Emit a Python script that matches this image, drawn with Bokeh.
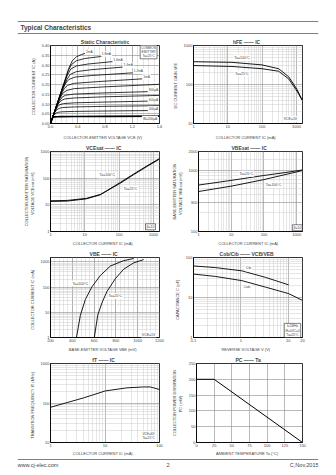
from bokeh.plotting import figure
from bokeh.layouts import column, row
from bokeh.models import (Range1d, FixedTicker, Label, Span,
                          CustomJSTickFormatter, PrintfTickFormatter)
from bokeh.embed import file_html
from bokeh.resources import INLINE

FONT = "Liberation Sans"

# ---------------- data ----------------
# Static characteristic : IC (A) vs VCE (V), one curve per base current
static_labels = ["2mA", "1.8mA", "1.6mA", "1.4mA", "1.2mA", "1mA", "", "800µA", "",
                 "600µA", "", "400µA", "IB=200µA"]
vce_c01 = [0, 0.10, 0.20, 0.27, 0.32, 0.38, 0.45, 0.52]
ic_c01 = [0, 0.105, 0.21, 0.285, 0.322, 0.342, 0.353, 0.361]
vce_c02 = [0, 0.10, 0.20, 0.26, 0.31, 0.38, 0.50, 0.77]
ic_c02 = [0, 0.105, 0.205, 0.27, 0.303, 0.322, 0.333, 0.345]
vce_c03 = [0, 0.10, 0.19, 0.25, 0.30, 0.38, 0.55, 0.96]
ic_c03 = [0, 0.105, 0.195, 0.25, 0.28, 0.295, 0.305, 0.319]
vce_c04 = [0, 0.10, 0.18, 0.24, 0.29, 0.38, 0.60, 1.12]
ic_c04 = [0, 0.10, 0.18, 0.225, 0.252, 0.266, 0.276, 0.291]
vce_c05 = [0, 0.09, 0.16, 0.22, 0.27, 0.36, 0.60, 1.26]
ic_c05 = [0, 0.09, 0.16, 0.205, 0.226, 0.238, 0.246, 0.261]
vce_c06 = [0, 0.08, 0.15, 0.20, 0.25, 0.35, 0.70, 1.40]
ic_c06 = [0, 0.08, 0.145, 0.178, 0.196, 0.206, 0.215, 0.230]
vce_c07 = [0, 0.07, 0.13, 0.18, 0.24, 0.35, 0.80, 1.60]
ic_c07 = [0, 0.07, 0.125, 0.155, 0.17, 0.179, 0.188, 0.201]
vce_c08 = [0, 0.06, 0.12, 0.17, 0.22, 0.35, 0.80, 1.60]
ic_c08 = [0, 0.06, 0.11, 0.135, 0.145, 0.151, 0.157, 0.165]
vce_c09 = [0, 0.06, 0.11, 0.16, 0.21, 0.35, 0.80, 1.60]
ic_c09 = [0, 0.06, 0.10, 0.118, 0.126, 0.131, 0.137, 0.144]
vce_c10 = [0, 0.05, 0.10, 0.14, 0.19, 0.35, 0.80, 1.60]
ic_c10 = [0, 0.05, 0.085, 0.097, 0.102, 0.106, 0.110, 0.116]
vce_c11 = [0, 0.05, 0.09, 0.13, 0.18, 0.35, 0.80, 1.60]
ic_c11 = [0, 0.05, 0.07, 0.078, 0.082, 0.085, 0.088, 0.0915]
vce_c12 = [0, 0.04, 0.08, 0.12, 0.17, 0.35, 0.80, 1.60]
ic_c12 = [0, 0.04, 0.053, 0.058, 0.060, 0.062, 0.064, 0.067]
vce_c13 = [0, 0.03, 0.06, 0.10, 0.15, 0.35, 0.80, 1.60]
ic_c13 = [0, 0.03, 0.034, 0.035, 0.0355, 0.036, 0.0365, 0.0376]
static_label_x = [0.57, 0.82, 0.99, 1.14, 1.29, 1.41, 0, 1.51, 0, 1.51, 0, 1.51, 1.46]
static_label_y = [0.368, 0.356, 0.328, 0.299, 0.270, 0.238, 0, 0.172, 0, 0.123, 0, 0.074, 0.026]
static_x_ticks = [0.0, 0.4, 0.8, 1.2, 1.6]
static_y_ticks = [0.00, 0.05, 0.10, 0.15, 0.20, 0.25, 0.30, 0.35, 0.40]

# hFE vs IC
hfe_ic = [1, 13.2, 99, 303, 594, 1035, 1450]
hfe_100 = [384, 370, 318, 254, 158, 75, 41]
hfe_25 = [306, 290, 254, 219, 139, 68, 40]

# VCEsat vs IC
vcesat_ic = [1, 3.06, 11.2, 28.5, 104, 267, 651, 1500]
vcesat_100 = [13.4, 13.8, 16.8, 24, 67, 144, 290, 545]
vcesat_25 = [14.2, 14.6, 17.5, 24.5, 63, 136, 276, 520]

# VBEsat vs IC
vbesat_ic = [1, 10.5, 99, 380, 1450]
vbesat_25 = [569, 681, 815, 898, 1000]
vbesat_100 = [447, 549, 698, 826, 977]

# IC vs VBE
vbe_100 = [438, 474, 520, 581, 657, 749, 871, 963]
icvbe_100 = [1, 7.6, 32.6, 104, 288, 687, 1127, 1363]
vbe_25 = [602, 633, 673, 718, 795, 871, 963, 1054]
icvbe_25 = [1, 7.6, 24.4, 67, 216, 515, 918, 1236]

# Cob / Cib vs reverse voltage
vr_cib = [0.1, 0.287, 1.05, 3.3, 10.2]
cib = [61.5, 56, 46.4, 31.9, 20.7]
vr_cob = [0.1, 0.287, 1.05, 3.3, 10.2, 19.5]
cob = [38.5, 33.7, 26.4, 18.2, 12.5, 8.6]

# fT vs IC
ft_ic = [1, 2.02, 4.07, 10.1, 25.3, 50.9, 67.5, 100]
ft = [78, 102.5, 135, 202, 242, 255, 255, 220]

# PC vs Ta
ta = [0, 25, 150]
pc = [200, 200, 0]
ta_ticks = [0, 25, 50, 75, 100, 125, 150]
pc_ticks = [0, 50, 100, 150, 200, 250]

# ---------------- helpers ----------------
LOGFMT = CustomJSTickFormatter(code="return String(tick)")


def log_minors(lo, hi):
    out = []
    for e in range(-2, 5):
        for m in range(2, 10):
            v = round(m * 10 ** e, 6)
            if lo < v < hi:
                out.append(v)
    return out


def make(w, h, xr, yr, xtype, ytype, borders, title, xlabel, ylabel,
         xstand=2, ystand=3):
    bl, br, bt, bb = borders
    p = figure(width=w, height=h, x_range=Range1d(*xr), y_range=Range1d(*yr),
               x_axis_type=xtype, y_axis_type=ytype,
               output_backend="svg", toolbar_location=None,
               min_border_left=bl, min_border_right=br,
               min_border_top=bt, min_border_bottom=bb)
    p.title.text = title
    p.title.align = "center"
    p.title.text_font = FONT
    p.title.text_font_size = "5px"
    p.title.standoff = 1
    p.title.offset = 0
    p.outline_line_color = "black"
    p.outline_line_width = 0.8
    p.background_fill_color = "white"
    p.border_fill_color = "white"
    p.xaxis.axis_label = xlabel
    p.yaxis.axis_label = ylabel
    for ax in (p.xaxis[0], p.yaxis[0]):
        ax.major_label_text_font = FONT
        ax.major_label_text_font_size = "4px"
        ax.axis_label_text_font = FONT
        ax.axis_label_text_font_size = "4px"
        ax.axis_label_text_font_style = "normal"
        ax.major_tick_in = 0
        ax.major_tick_out = 0
        ax.minor_tick_in = 0
        ax.minor_tick_out = 0
        ax.major_label_standoff = 1
        ax.axis_line_color = "black"
        ax.axis_line_width = 0.8
    p.xaxis[0].axis_label_standoff = xstand
    p.yaxis[0].axis_label_standoff = ystand
    p.grid.grid_line_color = "#8c8c8c"
    p.grid.grid_line_width = 0.6
    p.grid.minor_grid_line_color = "#cccccc"
    p.grid.minor_grid_line_width = 0.5
    return p


def set_ticks(p, axis, majors, minors, fmt):
    t = FixedTicker(ticks=majors, minor_ticks=minors)
    if axis == "x":
        p.xaxis.ticker = t
        p.xgrid.ticker = t
        p.xaxis.formatter = fmt
    else:
        p.yaxis.ticker = t
        p.ygrid.ticker = t
        p.yaxis.formatter = fmt


def note(p, x, y, text, size="3.5px", align="center", box=False):
    lab = Label(x=x, y=y, text=text, text_font=FONT, text_font_size=size,
                text_align=align, text_baseline="middle",
                background_fill_color="white", padding=1)
    if box:
        lab.border_line_color = "black"
        lab.border_line_width = 0.5
    p.add_layout(lab)


LEFT = (50, 9)
RIGHT = (25, 34)

# ---------------- header ----------------
hdr = figure(width=336, height=36, x_range=Range1d(0, 1), y_range=Range1d(0, 1),
             output_backend="svg", toolbar_location=None,
             x_axis_location=None, y_axis_location=None,
             min_border_left=17, min_border_right=18, min_border_top=21, min_border_bottom=3)
hdr.grid.visible = False
hdr.outline_line_color = None
hdr.add_layout(Span(location=1, dimension="width", line_color="black", line_width=1))
hdr.add_layout(Span(location=0, dimension="width", line_color="black", line_width=1))
hdr.add_layout(Label(x=0, y=0.5, x_offset=3, text="Typical Characteristics", text_font=FONT,
                     text_font_size="6.5px", text_font_style="bold", text_baseline="middle"))

# ---------------- row 1 ----------------
f1 = make(168, 106, (0, 1.6), (0, 0.40), "linear", "linear", LEFT + (8, 16),
          "Static Characteristic", "COLLECTOR-EMITTER VOLTAGE   VCE   (V)",
          "COLLECTOR CURRENT   IC   (A)", xstand=4)
set_ticks(f1, "x", static_x_ticks, [round(i * 0.08, 2) for i in range(21)],
          PrintfTickFormatter(format="%.1f"))
set_ticks(f1, "y", static_y_ticks, [], PrintfTickFormatter(format="%.2f"))
static_vce = [vce_c01, vce_c02, vce_c03, vce_c04, vce_c05, vce_c06, vce_c07,
              vce_c08, vce_c09, vce_c10, vce_c11, vce_c12, vce_c13]
static_ic = [ic_c01, ic_c02, ic_c03, ic_c04, ic_c05, ic_c06, ic_c07,
             ic_c08, ic_c09, ic_c10, ic_c11, ic_c12, ic_c13]
for i, (xs, ys) in enumerate(zip(static_vce, static_ic)):
    f1.line(xs, ys, line_color="black", line_width=1.6 if i == 12 else 0.8)
for lx, ly, lt in zip(static_label_x, static_label_y, static_labels):
    if lt:
        note(f1, lx, ly, lt, size="3.2px")
note(f1, 1.44, 0.368, "COMMON\nEMITTER\nTa=25°C", size="3.2px", box=True)

f2 = make(168, 106, (1, 1500), (10, 1000), "log", "log", RIGHT + (8, 16),
          "hFE  ——  IC", "COLLECTOR CURRENT   IC   (mA)", "DC CURRENT GAIN   hFE", xstand=4)
set_ticks(f2, "x", [1, 10, 100, 1000], log_minors(1, 1500), LOGFMT)
set_ticks(f2, "y", [10, 100, 1000], log_minors(10, 1000), LOGFMT)
f2.line(hfe_ic, hfe_100, line_color="black", line_width=0.9)
f2.line(hfe_ic, hfe_25, line_color="black", line_width=0.9)
note(f2, 26, 492, "Ta=100°C")
note(f2, 26, 191, "Ta=25°C")
note(f2, 668, 13, "VCE=1V")

# ---------------- row 2 ----------------
f3 = make(168, 106, (1, 1500), (1, 1000), "log", "log", LEFT + (8, 15),
          "VCEsat  ——  IC", "COLLECTOR CURRENT   IC   (mA)",
          "COLLECTOR-EMITTER SATURATION\nVOLTAGE   VCEsat   (mV)")
set_ticks(f3, "x", [1, 10, 100, 1000], log_minors(1, 1500), LOGFMT)
set_ticks(f3, "y", [1, 10, 100, 1000], log_minors(1, 1000), LOGFMT)
f3.line(vcesat_ic, vcesat_100, line_color="black", line_width=0.9)
f3.line(vcesat_ic, vcesat_25, line_color="black", line_width=0.9)
note(f3, 45, 126, "Ta=100°C")
note(f3, 214, 38.5, "Ta=25°C")
note(f3, 818, 1.5, "β=10", box=True)

f4 = make(168, 106, (1, 1500), (100, 2000), "log", "log", RIGHT + (8, 15),
          "VBEsat  ——  IC", "COLLECTOR CURRENT   IC   (mA)",
          "BASE-EMITTER SATURATION\nVOLTAGE   VBEsat   (mV)")
set_ticks(f4, "x", [1, 10, 100, 1000], log_minors(1, 1500), LOGFMT)
set_ticks(f4, "y", [100, 300, 1000, 2000], [200, 400, 500, 600, 700, 800, 900, 1500], LOGFMT)
f4.line(vbesat_ic, vbesat_25, line_color="black", line_width=0.9)
f4.line(vbesat_ic, vbesat_100, line_color="black", line_width=0.9)
note(f4, 29, 866, "Ta=25°C")
note(f4, 194, 569, "Ta=100°C")
note(f4, 1045, 115, "β=10", box=True)

# ---------------- row 3 ----------------
f5 = make(168, 106, (200, 1200), (1, 1500), "linear", "log", LEFT + (9, 14),
          "VBE  ——  IC", "BASE-EMITTER VOLTAGE   VBE   (mV)",
          "COLLECTOR CURRENT   IC   (mA)")
set_ticks(f5, "x", [200, 400, 600, 800, 1000, 1200], list(range(200, 1201, 40)),
          PrintfTickFormatter(format="%d"))
set_ticks(f5, "y", [1, 10, 100, 1000], log_minors(1, 1500), LOGFMT)
f5.line(vbe_100, icvbe_100, line_color="black", line_width=0.9)
f5.line(vbe_25, icvbe_25, line_color="black", line_width=0.9)
note(f5, 474, 139, "Ta=100°C")
note(f5, 795, 44, "Ta=25°C")
note(f5, 1100, 1.3, "VCE=1V")

f6 = make(168, 106, (0.1, 20), (1, 100), "log", "log", RIGHT + (9, 14),
          "Cob/Cib  ——  VCB/VEB", "REVERSE VOLTAGE   V   (V)",
          "CAPACITANCE   C   (pF)")
set_ticks(f6, "x", [0.1, 1, 10, 20], log_minors(0.1, 20), LOGFMT)
set_ticks(f6, "y", [1, 10, 100], log_minors(1, 100), LOGFMT)
f6.line(vr_cib, cib, line_color="black", line_width=0.9)
f6.line(vr_cob, cob, line_color="black", line_width=0.9)
note(f6, 1.45, 54, "Cib")
note(f6, 1.34, 18.3, "Cob")
note(f6, 12.3, 1.5, "f=1MHz\nIE=0/IC=0\nTa=25°C", size="3.2px", box=True)

# ---------------- row 4 ----------------
f7 = make(168, 104, (1, 100), (10, 1000), "log", "log", LEFT + (9, 11),
          "fT  ——  IC", "COLLECTOR CURRENT   IC   (mA)",
          "TRANSITION FREQUENCY   fT   (MHz)", xstand=1)
set_ticks(f7, "x", [1, 10, 100], log_minors(1, 100), LOGFMT)
set_ticks(f7, "y", [10, 100, 1000], log_minors(10, 1000), LOGFMT)
f7.line(ft_ic, ft, line_color="black", line_width=0.9)
note(f7, 63, 14.5, "VCE=6V\nTa=25°C", size="3.2px")

f8 = make(168, 104, (0, 150), (0, 250), "linear", "linear", RIGHT + (9, 11),
          "PC  ——  Ta", "AMBIENT TEMPERATURE   Ta   (°C)",
          "COLLECTOR POWER DISSIPATION\nPC   (mW)", xstand=1)
set_ticks(f8, "x", ta_ticks, [], PrintfTickFormatter(format="%d"))
set_ticks(f8, "y", pc_ticks, [], PrintfTickFormatter(format="%d"))
f8.line(ta, pc, line_color="black", line_width=1)

# ---------------- footer ----------------
ftr = figure(width=336, height=17, x_range=Range1d(0, 1), y_range=Range1d(0, 1),
             output_backend="svg", toolbar_location=None,
             x_axis_location=None, y_axis_location=None,
             min_border_left=17, min_border_right=18, min_border_top=1, min_border_bottom=0)
ftr.grid.visible = False
ftr.outline_line_color = None
ftr.add_layout(Span(location=1, dimension="width", line_color="black", line_width=1))
for x, t, a in [(0, "www.cj-elec.com", "left"), (0.5, "2", "center"), (1, "C,Nov,2015", "right")]:
    ftr.add_layout(Label(x=x, y=0.66, text=t, text_font=FONT, text_font_size="5.5px",
                         text_align=a, text_baseline="middle"))

layout = column(hdr, row(f1, f2), row(f3, f4), row(f5, f6), row(f7, f8), ftr)
open("out.html", "w").write(file_html(layout, INLINE))
